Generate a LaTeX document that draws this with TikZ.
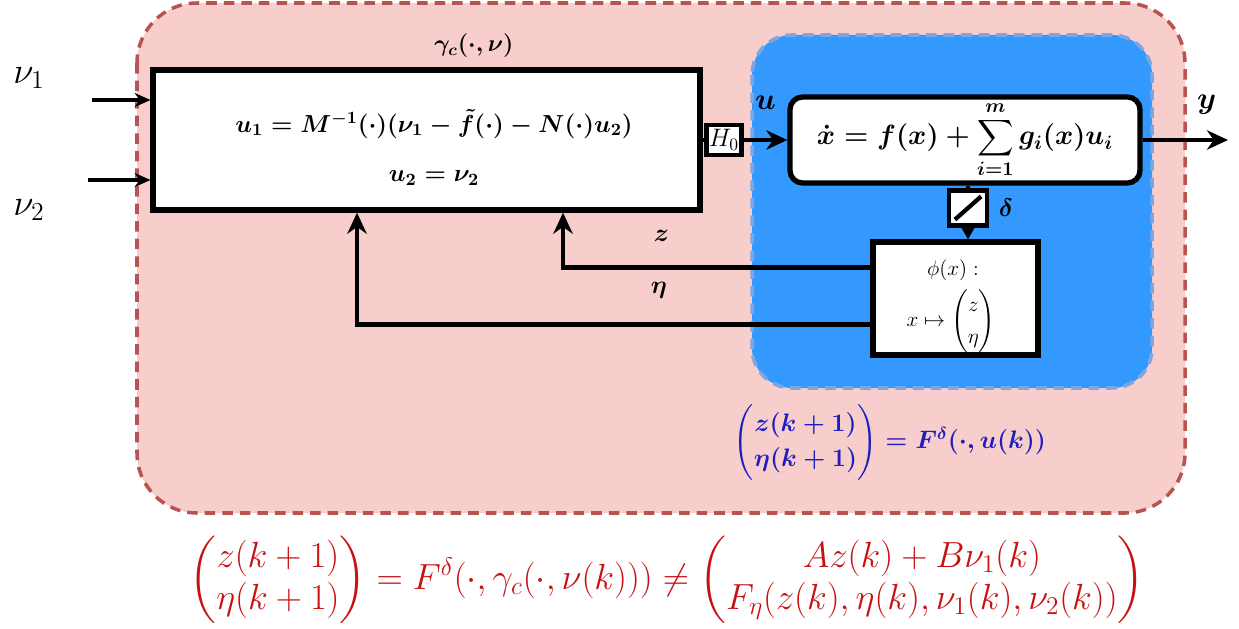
\RequirePackage{fix-cm}
\documentclass[tikz,border=0pt]{standalone}
\usepackage{amsmath}
\usetikzlibrary{positioning,calc,arrows.meta}

\definecolor{outerfill}{HTML}{F8CECC}
\definecolor{outerline}{HTML}{B85450}
\definecolor{innerfill}{HTML}{3399FF}
\definecolor{innerline}{HTML}{7EA6E0}
\definecolor{eqblue}{HTML}{1E1EBE}
\definecolor{eqred}{HTML}{C81010}

\begin{document}
\begin{tikzpicture}[x=0.02cm, y=-0.02cm, >={Stealth[length=12pt, width=11pt]},
    blockbox/.style={draw, line width=3pt, fill=white, inner sep=0pt},
    sysbox/.style={draw, line width=3pt, fill=white, rounded corners=0.25cm,
        minimum width=7cm, minimum height=1.72cm, inner sep=0pt},
    holdbox/.style={draw, line width=2.4pt, fill=white, inner sep=0pt},
    sig/.style={->, line width=2.6pt},
    wire/.style={line width=2.6pt},
    lab/.style={font=\fontsize{14.4}{17}\selectfont\boldmath},
    ]
    \useasboundingbox (0,0) rectangle (1239,628);

    % Regions
    \draw[outerline, fill=outerfill, line width=2pt, dash pattern=on 6pt off 4pt,
        rounded corners=1.2cm] (137,3) rectangle (1185,513);
    \draw[innerline, fill=innerfill, line width=2pt, dash pattern=on 6pt off 4pt,
        rounded corners=0.8cm] (752,35) rectangle (1152,388);

    % Controller block
    \node[blockbox, minimum width=10.94cm, minimum height=2.8cm] (ctrl) at (426.5,140) {};
    \node[font=\fontsize{14}{28}\selectfont\boldmath, align=center] (ctrltext) at (434,147)
        {$u_1 = M^{-1}(\cdot)(\nu_1 - \tilde f(\cdot) - N(\cdot)u_2)$\\ $u_2 = \nu_2$};
    \node[font=\fontsize{13.5}{16}\selectfont\boldmath] (gamlab) at (474,46) {$\gamma_c(\cdot,\nu)$};

    % Inputs
    \node[font=\fontsize{21}{25}\selectfont] (nu1) at (29,78) {$\nu_1$};
    \node[font=\fontsize{21}{25}\selectfont] (nu2) at (29,210) {$\nu_2$};
    \coordinate (nu1s) at (92,100);
    \coordinate (nu2s) at (88,180);
    \draw[-{Stealth[length=9pt, width=8pt]}, line width=1.8pt] (nu1s) -- (ctrl.west |- nu1s);
    \draw[-{Stealth[length=9pt, width=8pt]}, line width=1.8pt] (nu2s) -- (ctrl.west |- nu2s);

    % Plant
    \node[sysbox, font=\fontsize{15.8}{18}\selectfont\boldmath] (sys) at (965,140)
        {$\displaystyle \dot x = f(x) + \sum_{i=1}^{m} g_i(x)u_i$};
    \node[holdbox, minimum width=0.7cm, minimum height=0.6cm,
        font=\fontsize{14.4}{16}\selectfont] (hold) at (724,140) {$H_0$};
    \draw[wire] (ctrl.east |- hold) -- (hold);
    \draw[sig] (hold) -- (sys) node[pos=0.5, above=13pt, font=\fontsize{17.3}{20}\selectfont\boldmath] (ulab) {$u$};

    \coordinate (yend) at (1228,140);
    \draw[sig] (sys) -- (yend) node[pos=0.75, above=10pt, font=\fontsize{17.3}{20}\selectfont\boldmath] (ylab) {$y$};

    % Sampler and map
    \node[holdbox, minimum width=0.76cm, minimum height=0.7cm] (samp) at (968,208) {};
    \draw[line width=2.4pt] ($(samp.south west)+(8,-8)$) -- ($(samp.north east)+(-8,8)$);
    \node[right=2pt of samp, lab] (dlab) {$\delta$};
    \node[blockbox, minimum width=3.3cm, minimum height=2.26cm] (phi) at (955.5,298.5) {};
    \node[font=\fontsize{12}{14}\selectfont] (phitop) at (953,270) {$\phi(x):$};
    \node[font=\fontsize{12}{14}\selectfont] (phibot) at (951,321)
        {$x \mapsto \renewcommand{\arraystretch}{1.3}\begin{pmatrix} z\\ \eta \end{pmatrix}$};
    \draw[wire] (sys.south -| samp) -- (samp);
    \draw[-{Stealth[length=8pt, width=9pt]}, line width=2pt] (samp) -- (phi.north -| samp);

    % Feedback of z and eta
    \coordinate (zcol) at (563,0);
    \coordinate (etacol) at (357,0);
    \draw[sig] ($(phi.north west)+(0,28)$) coordinate (zout) -| (zcol |- ctrl.south)
        node[pos=0.34, above=10pt, lab] (zlab) {$z$};
    \draw[sig] ($(phi.north west)+(0,85)$) coordinate (etaout) -| (etacol |- ctrl.south)
        node[pos=0.206, above=10pt, lab] (etalab) {$\eta$};

    % Equations
    \node[eqblue, font=\fontsize{14.4}{17}\selectfont\boldmath] (inner eq) at (890,442)
        {$\renewcommand{\arraystretch}{1.15}\begin{pmatrix} z(k+1)\\ \eta(k+1) \end{pmatrix} = F^{\delta}(\cdot,u(k))$};
    \node[eqred, font=\fontsize{20.7}{24}\selectfont] (outer eq) at (667,580)
        {$\begin{pmatrix} z(k+1)\\ \eta(k+1) \end{pmatrix} = F^{\delta}(\cdot,\gamma_c(\cdot,\nu(k))) \neq
          \begin{pmatrix} Az(k)+B\nu_1(k)\\ F_{\eta}(z(k),\eta(k),\nu_1(k),\nu_2(k)) \end{pmatrix}$};
\end{tikzpicture}
\end{document}
